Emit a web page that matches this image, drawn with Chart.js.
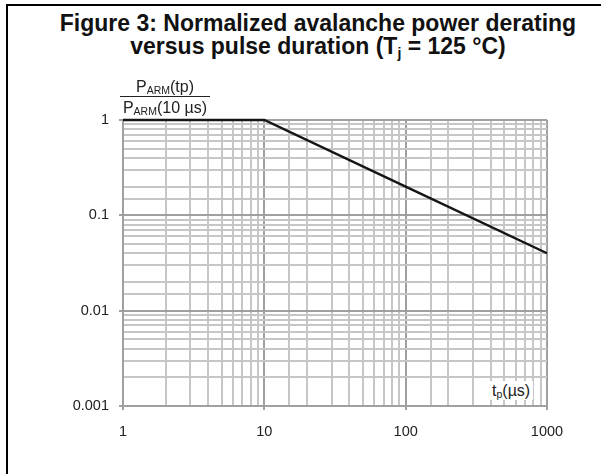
<!DOCTYPE html>
<html>
<head>
<meta charset="utf-8">
<script src="https://cdn.jsdelivr.net/npm/chart.js@4.4.1/dist/chart.umd.min.js"></script>
<style>
html, body { margin: 0; padding: 0; background: #fff; }
#wrap { position: relative; width: 601px; height: 474px; overflow: hidden; font-family: "Liberation Sans", Arial, sans-serif; color: #222; }
#frame { position: absolute; left: 6px; top: 4px; width: 800px; height: 600px; border-left: 2px solid #000; border-top: 2px solid #000; }
.tline { position: absolute; left: 18px; width: 600px; text-align: center; font-weight: bold; color: #111; white-space: nowrap; font-size: 23px; line-height: 23px; }
#t1 { top: 12px; }
#t2 { top: 35px; }
#t2 sub { font-size: 14px; vertical-align: -4px; line-height: 0; }
#chart { position: absolute; left: 0; top: 0; }
#ylab { position: absolute; left: 120px; width: 90px; top: 78px; text-align: center; font-size: 16px; line-height: 17px; }
#ylab .num { border-bottom: 1px solid #222; padding-bottom: 1px; }
#ylab .den { padding-top: 2px; }
#ylab sub, #xlab sub { font-size: 10.5px; vertical-align: -2px; line-height: 0; }
#xlab { position: absolute; left: 489px; top: 381px; background: #fff; font-size: 16px; line-height: 19px; padding: 0 3px; }
</style>
</head>
<body>
<div id="wrap">
  <div id="frame"></div>
  <div class="tline" id="t1">Figure 3: Normalized avalanche power derating</div>
  <div class="tline" id="t2">versus pulse duration (T<sub>j</sub> = 125 °C)</div>
  <canvas id="chart" width="601" height="474"></canvas>
  <div id="ylab"><div class="num">P<sub>ARM</sub>(tp)</div><div class="den">P<sub>ARM</sub>(10 µs)</div></div>
  <div id="xlab">t<sub>p</sub>(µs)</div>
</div>
<script>
// values
let pulseDuration = [1, 10, 100, 1000];
let powerRatio = [1, 1, 0.2, 0.04];
let xTickLabels = ["1", "10", "100", "1000"];
let yTickLabels = ["0.001", "0.01", "0.1", "1"];

function isDecade(v) {
    let l = Math.log10(v);
    return Math.abs(l - Math.round(l)) < 1e-9;
}

let points = pulseDuration.map((x, i) => ({ x: x, y: powerRatio[i] }));

function gridColor(ctx) {
    return ctx.tick && isDecade(ctx.tick.value) ? "#a0a0a0" : "#c6c6c6";
}
function tickColor(ctx) {
    return ctx.tick && isDecade(ctx.tick.value) ? "#a0a0a0" : "rgba(0,0,0,0)";
}

new Chart(document.getElementById("chart").getContext("2d"), {
    type: "line",
    data: {
        datasets: [{
            data: points,
            borderColor: "#151515",
            borderWidth: 2.4,
            pointRadius: 0,
            tension: 0,
            clip: false
        }]
    },
    options: {
        responsive: false,
        animation: false,
        layout: { padding: { left: 0, right: 54, top: 120, bottom: 0 } },
        plugins: { legend: { display: false }, tooltip: { enabled: false } },
        scales: {
            x: {
                type: "logarithmic",
                min: 1,
                max: 1000,
                afterFit: function(scale) { scale.height = 68; },
                border: { color: "#a0a0a0", width: 2 },
                grid: { color: gridColor, lineWidth: 2, tickColor: tickColor, tickLength: 4 },
                ticks: {
                    autoSkip: false,
                    maxRotation: 0,
                    padding: 13,
                    color: "#222",
                    font: { family: "Liberation Sans", size: 14.5 },
                    callback: function(v) { return isDecade(v) ? xTickLabels[Math.round(Math.log10(v))] : ""; }
                }
            },
            y: {
                type: "logarithmic",
                min: 0.001,
                max: 1,
                afterFit: function(scale) { scale.width = 123; },
                border: { color: "#a0a0a0", width: 2 },
                grid: { color: gridColor, lineWidth: 2, tickColor: tickColor, tickLength: 4 },
                ticks: {
                    autoSkip: false,
                    padding: 10,
                    color: "#222",
                    font: { family: "Liberation Sans", size: 14.5 },
                    callback: function(v) { return isDecade(v) ? yTickLabels[Math.round(Math.log10(v)) + 3] : ""; }
                }
            }
        }
    }
});
</script>
</body>
</html>
